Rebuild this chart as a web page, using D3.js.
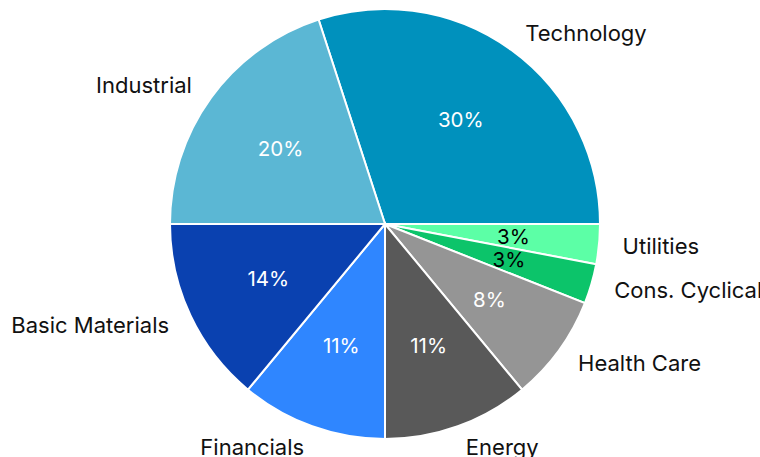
<!DOCTYPE html>
<html>
<head>
<meta charset="utf-8">
<script src="https://cdn.jsdelivr.net/npm/d3@7"></script>
<style>
  body { margin: 0; background: #fff; }
  text { font-family: Inter, "Noto Sans", sans-serif; }
</style>
</head>
<body>
<div id="chart"></div>
<script>
const sectors = ["Technology", "Utilities", "Cons. Cyclical", "Health Care", "Energy", "Financials", "Basic Materials", "Industrial"];
const weights = [30, 3, 3, 8, 11, 11, 14, 20];
const sectorColors = ["#0091bd", "#5cffa6", "#0cc46a", "#959595", "#595959", "#2f86ff", "#0a41b0", "#5bb7d4"];
const darkText = ["Utilities", "Cons. Cyclical"]; // small light slices get black percent labels

const width = 760, height = 457;
const cx = 385, cy = 224, radius = 215;

const svg = d3.select("#chart").append("svg")
    .attr("width", width)
    .attr("height", height);

const g = svg.append("g").attr("transform", `translate(${cx},${cy})`);

const data = sectors.map((s, i) => ({ sector: s, value: weights[i], color: sectorColors[i] }));
const total = d3.sum(weights);

const pie = d3.pie()
    .sort(null)
    .value(d => d.value)
    .startAngle(-18 * Math.PI / 180)
    .endAngle(342 * Math.PI / 180);

const arcs = pie(data);

const arc = d3.arc().innerRadius(0).outerRadius(radius);
const midAngle = d => (d.startAngle + d.endAngle) / 2;

g.selectAll("path.slice")
    .data(arcs)
    .enter().append("path")
    .attr("class", "slice")
    .attr("d", arc)
    .attr("fill", d => d.data.color)
    .attr("stroke", "#fff")
    .attr("stroke-width", 2);

// percent labels inside, at 0.6 of radius
g.selectAll("text.pct")
    .data(arcs)
    .enter().append("text")
    .attr("class", "pct")
    .attr("x", d => Math.sin(midAngle(d)) * radius * 0.6)
    .attr("y", d => -Math.cos(midAngle(d)) * radius * 0.6)
    .attr("text-anchor", "middle")
    .attr("dominant-baseline", "central")
    .attr("font-size", 20.5)
    .attr("fill", d => darkText.includes(d.data.sector) ? "#000" : "#fff")
    .text(d => Math.round(d.data.value / total * 100) + "%");

// sector names outside
g.selectAll("text.name")
    .data(arcs)
    .enter().append("text")
    .attr("class", "name")
    .attr("x", d => Math.sin(midAngle(d)) * radius * 1.11)
    .attr("y", d => -Math.cos(midAngle(d)) * radius * 1.1)
    .attr("text-anchor", d => Math.sin(midAngle(d)) >= 0 ? "start" : "end")
    .attr("dominant-baseline", "central")
    .attr("font-size", 22)
    .attr("fill", "#111")
    .text(d => d.data.sector);
</script>
</body>
</html>
